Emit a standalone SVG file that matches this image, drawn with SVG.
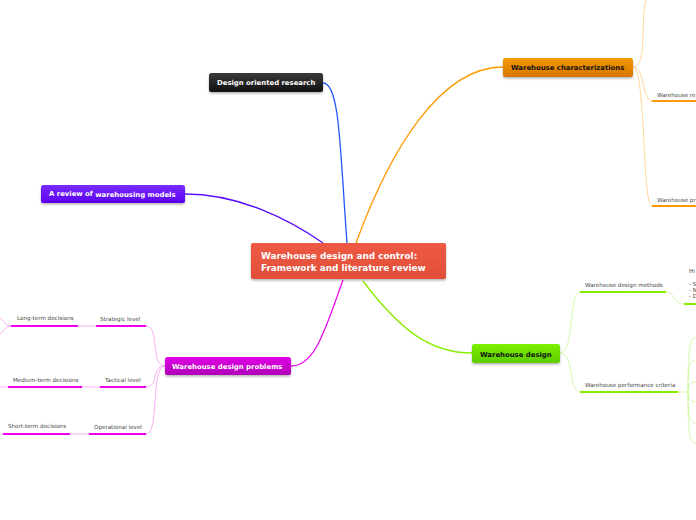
<svg xmlns="http://www.w3.org/2000/svg" width="696" height="520" viewBox="0 0 696 520">
<defs>
<linearGradient id="gRed" x1="0" y1="0" x2="0" y2="1"><stop offset="0" stop-color="#ee5a44"/><stop offset="1" stop-color="#e04e38"/></linearGradient>
<linearGradient id="gBlack" x1="0" y1="0" x2="0" y2="1"><stop offset="0" stop-color="#3a3a3a"/><stop offset="1" stop-color="#111"/></linearGradient>
<linearGradient id="gPurple" x1="0" y1="0" x2="0" y2="1"><stop offset="0" stop-color="#7a2cff"/><stop offset="1" stop-color="#5a00ee"/></linearGradient>
<linearGradient id="gOrange" x1="0" y1="0" x2="0" y2="1"><stop offset="0" stop-color="#f59a00"/><stop offset="1" stop-color="#d67600"/></linearGradient>
<linearGradient id="gGreen" x1="0" y1="0" x2="0" y2="1"><stop offset="0" stop-color="#7ef000"/><stop offset="1" stop-color="#5ccc00"/></linearGradient>
<linearGradient id="gMagenta" x1="0" y1="0" x2="0" y2="1"><stop offset="0" stop-color="#e000e6"/><stop offset="1" stop-color="#b000b8"/></linearGradient>
<filter id="sh" x="-10%" y="-20%" width="120%" height="150%"><feDropShadow dx="0" dy="1.5" stdDeviation="1" flood-color="#000" flood-opacity="0.3"/></filter>
</defs>
<style>
.t{font-family:"DejaVu Sans",Verdana,sans-serif;font-weight:bold;}
.w{fill:#fff;}
.k{fill:#111;}
.s{font-family:"DejaVu Sans",Verdana,sans-serif;font-size:5.6px;fill:#444;}
</style>
<rect width="696" height="520" fill="#fff"/>
<g id="connectors" fill="none">
<path d="M323,83 C340,83 340,150 347,243" stroke="#2255ff" stroke-width="1.3"/>
<path d="M185,194 C240,194 290,220 323,243" stroke="#5a10ff" stroke-width="1.3"/>
<path d="M503,67 C440,67 390,150 356,243" stroke="#ff9900" stroke-width="1.3"/>
<path d="M343,280 C325,330 315,366 291,366" stroke="#ee00ee" stroke-width="1.3"/>
<path d="M363,281 C400,330 430,353 472,353" stroke="#88ee00" stroke-width="1.3"/>
<g stroke="#ffcc80" stroke-width="0.8">
<path d="M633,67 C648,67 640,20 646,0"/>
<path d="M633,67 C645,67 642,101 652,101"/>
<path d="M633,67 C646,67 642,206 652,206"/>
</g>
<g stroke="#ff9900" stroke-width="2">
<path d="M652,101 L696,101"/>
<path d="M652,206 L696,206"/>
</g>
<g stroke="#ccf59a" stroke-width="0.8">
<path d="M560,353 C575,353 568,292 580,292"/>
<path d="M560,353 C575,353 568,392 580,392"/>
<path d="M666,292 C676,292 672,304 684,304"/>
<path d="M678,392 L688,392"/>
<path d="M688,392 C688,345 690,338 696,338"/>
<path d="M688,392 C688,365 690,360 696,360"/>
<path d="M688,392 C688,385 690,382 696,382"/>
<path d="M688,392 C688,398 690,402 696,402"/>
<path d="M688,392 C688,418 690,423 696,423"/>
<path d="M688,392 C688,438 690,443 696,443"/>
</g>
<g stroke="#88ee00" stroke-width="2">
<path d="M580,292 L666,292"/>
<path d="M580,392 L678,392"/>
<path d="M684,304 L696,304"/>
</g>
<g stroke="#f59af5" stroke-width="0.8">
<path d="M165,366 C150,366 160,326 146,326"/>
<path d="M165,366 C150,366 160,387 146,387"/>
<path d="M165,366 C150,366 160,434 146,434"/>
<path d="M78,326 L96,326"/>
<path d="M82,387 L100,387"/>
<path d="M70,434 L89,434"/>
<path d="M11,326 C5,326 4,320 0,318"/>
<path d="M11,326 C5,326 4,332 0,334"/>
<path d="M8,387 L0,387"/>
<path d="M3,434 L0,434"/>
</g>
<g stroke="#ee00ee" stroke-width="2">
<path d="M96,326 L146,326"/>
<path d="M100,387 L146,387"/>
<path d="M89,434 L146,434"/>
<path d="M11,326 L78,326"/>
<path d="M8,387 L82,387"/>
<path d="M3,434 L70,434"/>
</g>
</g>
<g id="n-center"><rect x="251" y="243" width="195" height="36" rx="2" fill="url(#gRed)" filter="url(#sh)"/>
<text class="t w" font-size="8.9" x="261" y="259">Warehouse design and control:</text>
<text class="t w" font-size="8.9" x="261" y="271">Framework and literature review</text></g>
<g id="n-research"><rect x="209" y="73" width="114" height="19" rx="2.5" fill="url(#gBlack)" filter="url(#sh)"/>
<text class="t w" font-size="6.9" x="217" y="85">Design oriented research</text></g>
<g id="n-review"><rect x="41" y="185" width="144" height="18" rx="2.5" fill="url(#gPurple)" filter="url(#sh)"/>
<text class="t w" font-size="6.9" x="49" y="196">A review of <tspan dy="1">warehousing models</tspan></text></g>
<g id="n-char"><rect x="503" y="58" width="130" height="19" rx="2.5" fill="url(#gOrange)" filter="url(#sh)"/>
<text class="t k" font-size="6.9" x="511" y="70">Warehouse characterizations</text></g>
<g id="n-design"><rect x="472" y="344" width="88" height="19" rx="2.5" fill="url(#gGreen)" filter="url(#sh)"/>
<text class="t k" font-size="6.9" x="480" y="357">Warehouse design</text></g>
<g id="n-problems"><rect x="165" y="357" width="126" height="18" rx="2.5" fill="url(#gMagenta)" filter="url(#sh)"/>
<text class="t w" font-size="6.9" x="172" y="369">Warehouse design problems</text></g>
<g id="n-wre"><text class="s" x="657" y="97">Warehouse re</text></g>
<g id="n-wpr"><text class="s" x="657" y="202">Warehouse pr</text></g>
<g id="n-methods"><text class="s" x="585" y="287">Warehouse design methods</text></g>
<g id="n-criteria"><text class="s" x="585" y="387">Warehouse performance criteria</text></g>
<g id="n-hi"><text class="s" x="689" y="273">Hi</text><text class="s" x="689" y="286">- S</text><text class="s" x="689" y="292">- N</text><text class="s" x="689" y="298">- D</text></g>
<g id="n-strategic"><text class="s" x="100" y="321">Strategic level</text></g>
<g id="n-tactical"><text class="s" x="105" y="382">Tactical level</text></g>
<g id="n-operational"><text class="s" x="94" y="429">Operational level</text></g>
<g id="n-long"><text class="s" x="17" y="320">Long-term decisions</text></g>
<g id="n-medium"><text class="s" x="13" y="382">Medium-term decisions</text></g>
<g id="n-short"><text class="s" x="8" y="428">Short-term decisions</text></g>
</svg>
